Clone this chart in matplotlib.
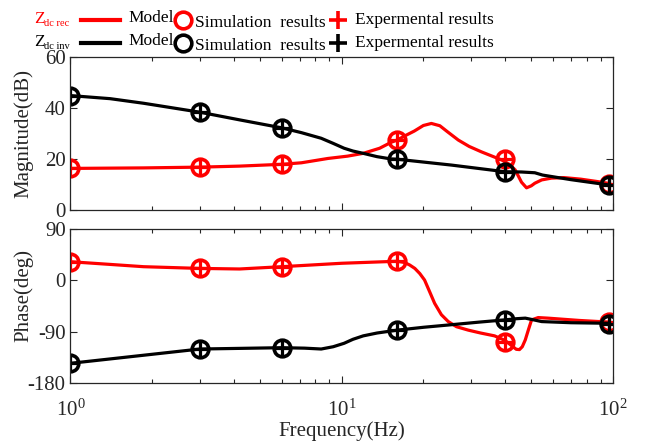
import numpy as np
import matplotlib.pyplot as plt
from matplotlib.lines import Line2D

plt.rcParams['font.family'] = 'Liberation Serif'
plt.rcParams['mathtext.fontset'] = 'custom'
plt.rcParams['mathtext.rm'] = 'Liberation Serif'

# model curves
f_mag_rec = [1, 1.86, 3, 4.2, 6, 7.1, 8.9, 10.5, 12, 13.8, 15.2, 16, 17.2, 18.5, 20, 21.4,
             23, 24.5, 26.9, 29.5, 32.7, 38.9, 41.5, 43.6, 46, 48, 50, 51.5, 54.6, 59.3,
             66, 76, 87, 97]
mag_rec = [16.4, 16.6, 16.9, 17.3, 18.0, 18.6, 20.3, 21.2, 22.3, 24.3, 26.6, 27.5, 29.3,
           31.0, 33.2, 34.0, 33.1, 30.8, 27.5, 25.0, 22.9, 19.7, 18.0, 15.8, 11.0, 8.8,
           9.6, 10.6, 11.9, 12.6, 12.8, 12.2, 11.3, 10.5]

f_mag_inv = [1, 1.4, 1.86, 3, 4.25, 6, 7.1, 8.4, 9.3, 10.2, 11, 12, 13.5, 15.2, 16, 25.4,
             40, 46, 51.5, 55, 62, 70, 83, 97]
mag_inv = [44.9, 43.7, 41.9, 38.4, 35.3, 32.3, 30.4, 28.2, 26.2, 24.3, 23.2, 22.3, 21.0,
           20.1, 20.0, 17.7, 15.1, 15.0, 14.7, 13.8, 12.9, 12.0, 10.9, 9.9]

f_ph_rec = [1, 1.4, 1.86, 3, 4.2, 6, 10, 16, 17.0, 17.8, 18.6, 19.4, 20.2, 21.1, 22.0,
            23.3, 24.7, 26.5, 29.3, 32.5, 36.6, 40, 42, 44, 45.2, 46.3, 47.5, 48.8,
            50.1, 53, 57.6, 75, 97]
ph_rec = [32.7, 28, 24, 21, 20, 24, 30, 33.5, 31.5, 27, 21, 12, 0.7, -20, -40, -60,
          -72, -81, -87, -92, -97, -105, -113, -120.5, -121, -116, -104, -86, -69, -65,
          -66, -70, -73]

f_ph_inv = [1, 3, 6, 7.3, 8.4, 9.3, 10.2, 11, 12, 13.5, 15.2, 16, 20, 24.7, 32, 40,
            44, 47.5, 51, 54.6, 70, 97]
ph_inv = [-145, -120, -117.7, -118.5, -120, -116, -110, -103, -97, -92, -88.5, -87,
          -82, -78, -73, -69, -67, -66, -69, -72, -74, -75]

# simulation / experimental points
f_pts = [1, 3, 6, 16, 40, 97]
mag_rec_sim = [16.4, 16.9, 18.0, 27.5, 20.2, 10.3]
mag_inv_sim = [44.9, 38.4, 32.3, 20.0, 15.1, 9.9]
mag_rec_exp = [16.4, 16.9, 18.0, 27.5, 20.2, 10.3]
mag_inv_exp = [44.9, 38.4, 32.3, 20.0, 15.1, 9.9]
ph_rec_sim = [32.7, 21, 24, 33.5, -107, -73]
ph_inv_sim = [-145, -120, -117.7, -87, -69, -76]
ph_rec_exp = [32.7, 21, 24, 33.5, -107, -73]
ph_inv_exp = [-145, -120, -117.7, -87, -69, -76]

fig = plt.figure(figsize=(6.57, 4.41), dpi=100)
ax1 = fig.add_axes([0.1073, 0.5231, 0.8257, 0.3476])
ax2 = fig.add_axes([0.1073, 0.1308, 0.8257, 0.3500])

lw = 2.3
circ = dict(ls='none', marker='o', ms=12, mfc='none', mew=2.6)
plus = dict(ls='none', marker='+', ms=13, mew=2.3)


def draw(ax, fr, yr, fi, yi, rs, re, is_, ie):
    ax.plot(fr, yr, color='red', lw=lw)
    ax.plot(f_pts, rs, mec='red', **circ)
    ax.plot(f_pts, re, color='red', **plus)
    ax.plot(fi, yi, color='black', lw=lw)
    ax.plot(f_pts, is_, mec='black', **circ)
    ax.plot(f_pts, ie, color='black', **plus)


draw(ax1, f_mag_rec, mag_rec, f_mag_inv, mag_inv,
     mag_rec_sim, mag_rec_exp, mag_inv_sim, mag_inv_exp)
draw(ax2, f_ph_rec, ph_rec, f_ph_inv, ph_inv,
     ph_rec_sim, ph_rec_exp, ph_inv_sim, ph_inv_exp)

for ax in (ax1, ax2):
    ax.set_xscale('log')
    ax.set_xlim(1, 100)
    ax.tick_params(which='both', direction='in', top=True, right=True,
                   labelsize=15, colors='#262626', width=0.8)
    ax.tick_params(which='major', length=5)
    ax.tick_params(which='minor', length=3)
    for s in ax.spines.values():
        s.set_color('#262626')
        s.set_linewidth(0.9)

ax1.set_ylim(0, 60)
ax1.set_yticks([0, 20, 40, 60])
ax1.tick_params(labelbottom=False)
ax1.set_ylabel('Magnitude(dB)', fontsize=15, color='#262626')
ax1.yaxis.set_label_coords(-0.068, 0.5)

ax2.set_ylim(-180, 90)
ax2.set_yticks([-180, -90, 0, 90])
ax2.set_yticklabels(['-180', '-90', '0', '90'])
ax2.tick_params(axis='x', which='major', pad=12)
ax2.set_ylabel('Phase(deg)', fontsize=15, color='#262626')
ax2.yaxis.set_label_coords(-0.068, 0.57)
ax2.set_xlabel('Frequency(Hz)', fontsize=15, color='#262626', labelpad=0)

# legend rows
rows = [(0.954, 'red', 'dc rec'), (0.902, 'black', 'dc inv')]
W = 657.0
for y, c, sub in rows:
    fig.text(34 / W, y + 0.002, 'Z', color=c, fontsize=12.5, va='center')
    fig.text(44 / W, y - 0.008, sub, color=c, fontsize=7.5, va='center')
    fig.add_artist(Line2D([81 / W, 120 / W], [y, y], color=c, lw=3))
    fig.text(128 / W, y + 0.006, 'Model', fontsize=12.5, va='center')
    fig.add_artist(Line2D([183 / W], [y], marker='o', ms=12, mfc='none', mec=c, mew=2.6))
    fig.text(195 / W, y - 0.006, 'Simulation  results', fontsize=12.5, va='center')
    fig.add_artist(Line2D([338 / W], [y], marker='+', ms=13, color=c, mew=2.6))
    fig.text(355 / W, y, 'Expermental results', fontsize=12.5, va='center')

fig.savefig('out.png', dpi=100)
